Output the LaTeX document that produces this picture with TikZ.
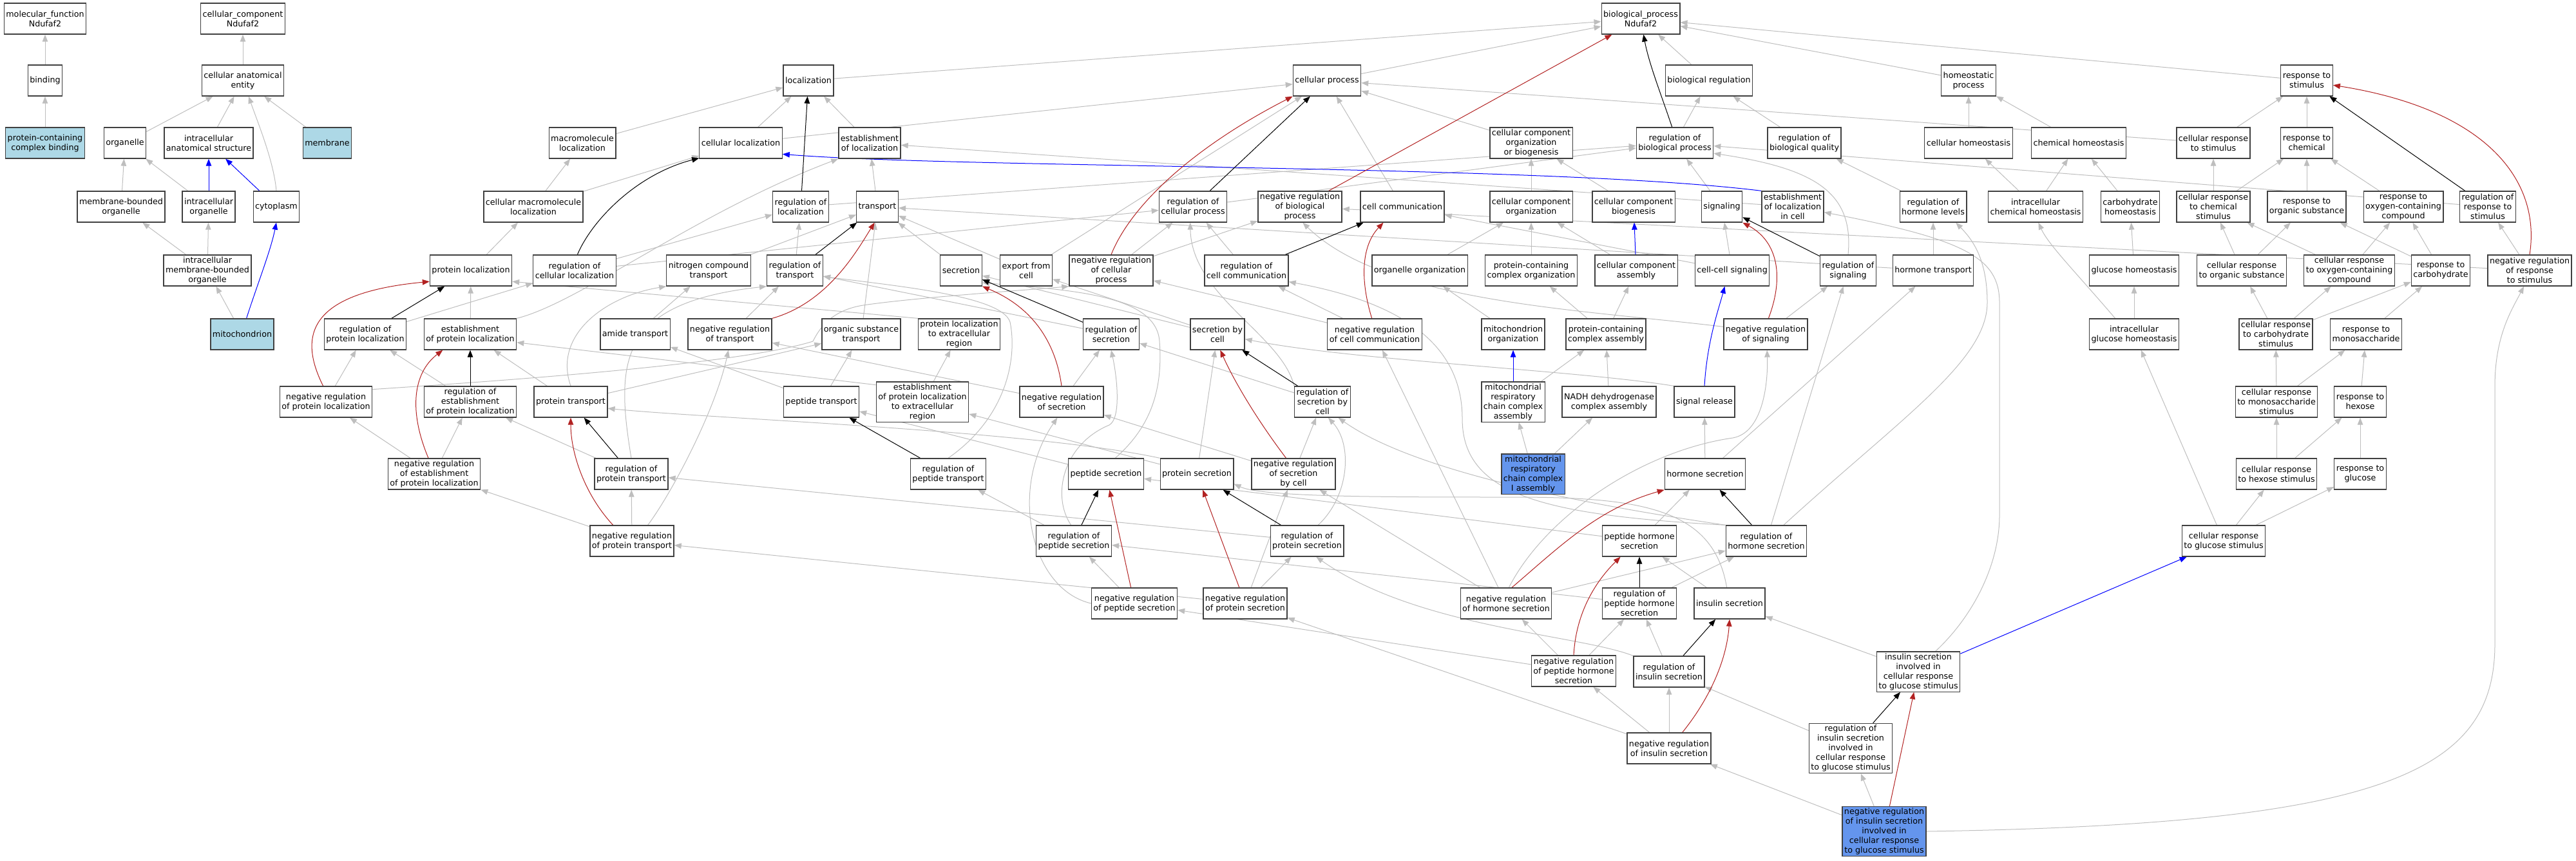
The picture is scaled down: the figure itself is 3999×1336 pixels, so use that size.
\documentclass[tikz,border=0pt]{standalone}
\usepackage{fontspec}
\setmainfont{DejaVu Sans}
\usepackage{tikz}
\usetikzlibrary{arrows.meta, backgrounds}
\definecolor{isacolor}{RGB}{190,190,190}
\definecolor{negcolor}{RGB}{178,34,34}
\definecolor{partcolor}{RGB}{0,0,255}
\definecolor{leafcolor}{RGB}{173,216,230}
\definecolor{querycolor}{RGB}{100,149,237}
\definecolor{bordercolor}{RGB}{64,64,64}
\newcommand{\termfont}{\fontsize{12.7}{15}\selectfont}

\begin{document}
\begin{tikzpicture}[
    x=1pt, y=-1pt,
    term/.style={draw=bordercolor, line width=1.3pt, fill=white, align=center, font=\termfont, inner xsep=3pt, inner ysep=2.5pt, minimum height=48pt},
    leaf/.style={term, fill=leafcolor},
    query/.style={term, fill=querycolor},
    isa/.style={draw=isacolor, line width=1pt, -{Triangle[length=11pt,width=8.5pt]}},
    reg/.style={isa, draw=black},
    negreg/.style={isa, draw=negcolor},
    partof/.style={isa, draw=partcolor}
]
    \useasboundingbox (0,0) rectangle (3999,1336);

    % Roots
    \node[term] (mf) at (70,29) {molecular\_function\\Ndufaf2};
    \node[term] (ccomp) at (377,29) {cellular\_component\\Ndufaf2};
    \node[term] (bp) at (2547,29) {biological\_process\\Ndufaf2};

    % Row 1
    \node[term] (binding) at (70,125) {binding};
    \node[term] (cae) at (377,125) {cellular anatomical\\entity};
    \node[term] (loc) at (1255,125) {localization};
    \node[term] (cp) at (2060,125) {cellular process};
    \node[term] (breg) at (2653,125) {biological regulation};
    \node[term] (hp) at (3056,125) {homeostatic\\process};
    \node[term] (rts) at (3581,125) {response to\\stimulus};

    % Row 2
    \node[leaf] (pcb) at (70,222) {protein-containing\\complex binding};
    \node[term] (organelle) at (194,222) {organelle};
    \node[term] (ias) at (324,222) {intracellular\\anatomical structure};
    \node[leaf] (membrane) at (508,222) {membrane};
    \node[term] (mml) at (904,222) {macromolecule\\localization};
    \node[term] (cl) at (1150,222) {cellular localization};
    \node[term] (el) at (1350,222) {establishment\\of localization};
    \node[term] (ccob) at (2377,222) {cellular component\\organization\\or biogenesis};
    \node[term] (rbp) at (2600,222) {regulation of\\biological process};
    \node[term] (rbq) at (2801,222) {regulation of\\biological quality};
    \node[term] (chom) at (3056,222) {cellular homeostasis};
    \node[term] (chemh) at (3227,222) {chemical homeostasis};
    \node[term] (crts) at (3436,222) {cellular response\\to stimulus};
    \node[term] (rtc) at (3581,222) {response to\\chemical};

    % Row 3
    \node[term] (mbo) at (188,321) {membrane-bounded\\organelle};
    \node[term] (io) at (324,321) {intracellular\\organelle};
    \node[term] (cyto) at (429,321) {cytoplasm};
    \node[term] (cml) at (828,321) {cellular macromolecule\\localization};
    \node[term] (rloc) at (1243,321) {regulation of\\localization};
    \node[term] (transport) at (1362,321) {transport};
    \node[term] (rcp) at (1852,321) {regulation of\\cellular process};
    \node[term] (nrbp) at (2018,321) {negative regulation\\of biological\\process};
    \node[term] (ccomm) at (2177,321) {cell communication};
    \node[term] (cco) at (2377,321) {cellular component\\organization};
    \node[term] (ccb) at (2536,321) {cellular component\\biogenesis};
    \node[term] (signaling) at (2673,321) {signaling};
    \node[term] (elic) at (2783,321) {establishment\\of localization\\in cell};
    \node[term] (rhl) at (3001,321) {regulation of\\hormone levels};
    \node[term] (ich) at (3160,321) {intracellular\\chemical homeostasis};
    \node[term] (carbh) at (3307,321) {carbohydrate\\homeostasis};
    \node[term] (crcs) at (3436,321) {cellular response\\to chemical\\stimulus};
    \node[term] (ros) at (3581,321) {response to\\organic substance};
    \node[term] (rocc) at (3731,321) {response to\\oxygen-containing\\compound};
    \node[term] (rrts) at (3862,321) {regulation of\\response to\\stimulus};

    % Row 4
    \node[term] (imbo) at (322,420) {intracellular\\membrane-bounded\\organelle};
    \node[term] (ploc) at (731,420) {protein localization};
    \node[term] (rcl) at (892,420) {regulation of\\cellular localization};
    \node[term] (nct) at (1100,420) {nitrogen compound\\transport};
    \node[term] (rt) at (1234,420) {regulation of\\transport};
    \node[term] (secretion) at (1492,420) {secretion};
    \node[term] (efc) at (1593,420) {export from\\cell};
    \node[term] (nrcp) at (1725,420) {negative regulation\\of cellular\\process};
    \node[term] (rcc) at (1935,420) {regulation of\\cell communication};
    \node[term] (oo) at (2204,420) {organelle organization};
    \node[term] (pcco) at (2377,420) {protein-containing\\complex organization};
    \node[term] (cca) at (2540,420) {cellular component\\assembly};
    \node[term] (ccs) at (2689,420) {cell-cell signaling};
    \node[term] (rsig) at (2869,420) {regulation of\\signaling};
    \node[term] (ht) at (3001,420) {hormone transport};
    \node[term] (gh) at (3313,420) {glucose homeostasis};
    \node[term] (cros) at (3480,420) {cellular response\\to organic substance};
    \node[term] (croc) at (3647,420) {cellular response\\to oxygen-containing\\compound};
    \node[term] (rcarb) at (3789,420) {response to\\carbohydrate};
    \node[term] (nrrts) at (3927,420) {negative regulation\\of response\\to stimulus};

    % Row 5
    \node[leaf] (mito) at (376,519) {mitochondrion};
    \node[term] (rpl) at (567,519) {regulation of\\protein localization};
    \node[term] (epl) at (730,519) {establishment\\of protein localization};
    \node[term] (amide) at (986,519) {amide transport};
    \node[term] (nrt) at (1133,519) {negative regulation\\of transport};
    \node[term] (ost) at (1337,519) {organic substance\\transport};
    \node[term] (plter) at (1489,519) {protein localization\\to extracellular\\region};
    \node[term] (rsec) at (1725,519) {regulation of\\secretion};
    \node[term] (sbc) at (1890,519) {secretion by\\cell};
    \node[term] (nrcc) at (2134,519) {negative regulation\\of cell communication};
    \node[term] (mo) at (2349,519) {mitochondrion\\organization};
    \node[term] (pcca) at (2493,519) {protein-containing\\complex assembly};
    \node[term] (nrsig) at (2741,519) {negative regulation\\of signaling};
    \node[term] (igh) at (3313,519) {intracellular\\glucose homeostasis};
    \node[term] (crcarb) at (3533,519) {cellular response\\to carbohydrate\\stimulus};
    \node[term] (rmono) at (3673,519) {response to\\monosaccharide};

    % Row 6
    \node[term] (nrpl) at (506,624) {negative regulation\\of protein localization};
    \node[term] (repl) at (730,624) {regulation of\\establishment\\of protein localization};
    \node[term] (ptr) at (886,624) {protein transport};
    \node[term] (peptr) at (1275,624) {peptide transport};
    \node[term] (eplter) at (1432,624) {establishment\\of protein localization\\to extracellular\\region};
    \node[term] (nrsec) at (1648,624) {negative regulation\\of secretion};
    \node[term] (rsbc) at (2053,624) {regulation of\\secretion by\\cell};
    \node[term] (mrcca) at (2349,624) {mitochondrial\\respiratory\\chain complex\\assembly};
    \node[term] (nadh) at (2498,624) {NADH dehydrogenase\\complex assembly};
    \node[term] (srel) at (2646,624) {signal release};
    \node[term] (crmono) at (3534,624) {cellular response\\to monosaccharide\\stimulus};
    \node[term] (rhex) at (3664,624) {response to\\hexose};

    % Row 7
    \node[term] (nrepl) at (674,736) {negative regulation\\of establishment\\of protein localization};
    \node[term] (rpt) at (980,736) {regulation of\\protein transport};
    \node[term] (rpeptt) at (1472,736) {regulation of\\peptide transport};
    \node[term] (pepsec) at (1717,736) {peptide secretion};
    \node[term] (psec) at (1858,736) {protein secretion};
    \node[term] (nrsbc) at (2008,736) {negative regulation\\of secretion\\by cell};
    \node[query] (mrcc1) at (2380,736) {mitochondrial\\respiratory\\chain complex\\I assembly};
    \node[term] (hsec) at (2647,736) {hormone secretion};
    \node[term] (crhex) at (3534,736) {cellular response\\to hexose stimulus};
    \node[term] (rglu) at (3664,736) {response to\\glucose};

    % Row 8
    \node[term] (nrpt) at (981,840) {negative regulation\\of protein transport};
    \node[term] (rpeps) at (1667,840) {regulation of\\peptide secretion};
    \node[term] (rps) at (2029,840) {regulation of\\protein secretion};
    \node[term] (phs) at (2545,840) {peptide hormone\\secretion};
    \node[term] (rhs) at (2742,840) {regulation of\\hormone secretion};
    \node[term] (crgs) at (3452,840) {cellular response\\to glucose stimulus};

    % Row 9
    \node[term] (npeps) at (1761,937) {negative regulation\\of peptide secretion};
    \node[term] (nps) at (1933,937) {negative regulation\\of protein secretion};
    \node[term] (nrhs) at (2338,937) {negative regulation\\of hormone secretion};
    \node[term] (rphs) at (2545,937) {regulation of\\peptide hormone\\secretion};
    \node[term] (inss) at (2685,937) {insulin secretion};

    % Rows 10-12
    \node[term] (nrphs) at (2443,1042) {negative regulation\\of peptide hormone\\secretion};
    \node[term] (rins) at (2591,1043) {regulation of\\insulin secretion};
    \node[term] (isrgs) at (2978,1043) {insulin secretion\\involved in\\cellular response\\to glucose stimulus};
    \node[term] (nins) at (2591,1162) {negative regulation\\of insulin secretion};
    \node[term] (risrgs) at (2873,1162) {regulation of\\insulin secretion\\involved in\\cellular response\\to glucose stimulus};
    \node[query] (nisrgs) at (2925,1291) {negative regulation\\of insulin secretion\\involved in\\cellular response\\to glucose stimulus};

    \begin{scope}[on background layer]
    % is_a
    \draw[isa] (binding) -- (mf);
    \draw[isa] (pcb) -- (binding);
    \draw[isa] (cae) -- (ccomp);
    \draw[isa] (organelle) -- (cae);
    \draw[isa] (ias) -- (cae);
    \draw[isa] (cyto.north) .. controls (425,250) and (400,190) .. (cae.-70);
    \draw[isa] (membrane) -- (cae);
    \draw[isa] (mbo) -- (organelle);
    \draw[isa] (io) -- (organelle);
    \draw[isa] (imbo) -- (mbo);
    \draw[isa] (imbo) -- (io);
    \draw[isa] (mito) -- (imbo);
    \draw[isa] (mml) -- (loc);
    \draw[isa] (cml) -- (mml);
    \draw[isa] (cml) -- (cl);
    \draw[isa] (ploc) -- (cml);
    \draw[isa] (epl) -- (ploc);
    \draw[isa] (rpl) -- (rcl);
    \draw[isa] (rcl) -- (rloc);
    \draw[isa] (rcl) -- (rcp);
    \draw[isa] (epl.north east) .. controls (900,470) and (1080,330) .. (el.south west);
    \draw[isa] (nrpl) -- (rpl);
    \draw[isa] (nrpl.15) .. controls (800,590) and (1150,565) .. (1262,530) .. controls (1272,510) and (1290,482) .. (1340,474) .. controls (1420,462) and (1600,450) .. (nrcp.south west);
    \draw[isa] (nrepl) -- (nrpl);
    \draw[isa] (nrepl) -- (repl);
    \draw[isa] (repl) -- (rpl);
    \draw[isa] (ptr) -- (epl);
    \draw[isa] (ptr.north) .. controls (858,520) and (940,460) .. (nct.south west);
    \draw[isa] (ptr) -- (ost);
    \draw[isa] (rpt) -- (repl);
    \draw[isa] (rpt.north) .. controls (955,560) and (960,470) .. (rt.south west);
    \draw[isa] (nrpt) -- (rpt);
    \draw[isa] (nrpt) -- (nrepl);
    \draw[isa] (nrpt.45) .. controls (1040,770) and (1110,640) .. (nrt.-95);
    \draw[isa] (loc) -- (bp);
    \draw[isa] (cl) -- (loc);
    \draw[isa] (el) -- (loc);
    \draw[isa] (cl) -- (cp);
    \draw[isa] (elic) -- (el);
    \draw[isa] (transport) -- (el);
    \draw[isa] (rloc) -- (rbp);
    \draw[isa] (nct) -- (transport);
    \draw[isa] (rt) -- (rloc);
    \draw[isa] (nrt) -- (rt);
    \draw[isa] (secretion) -- (transport);
    \draw[isa] (efc) -- (transport);
    \draw[isa] (ost) -- (transport);
    \draw[isa] (ht) -- (transport);
    \draw[isa] (amide) -- (nct);
    \draw[isa] (efc) -- (cp);
    \draw[isa] (nrcp) -- (rcp);
    \draw[isa] (nrcp) -- (nrbp);
    \draw[isa] (rcp) -- (rbp);
    \draw[isa] (rcc) -- (rcp);
    \draw[isa] (sbc) -- (secretion);
    \draw[isa] (sbc) -- (efc);
    \draw[isa] (rsec) -- (rt);
    \draw[isa] (rsbc) -- (rsec);
    \draw[isa] (rsbc.north west) .. controls (1990,520) and (1850,460) .. (rcp.-100);
    \draw[isa] (psec) -- (sbc);
    \draw[isa] (pepsec.60) .. controls (1790,660) and (1805,600) .. (1800,530) .. controls (1795,455) and (1650,450) .. (secretion.-30);
    \draw[isa] (peptr) -- (ost);
    \draw[isa] (peptr) -- (amide);
    \draw[isa] (plter.north west) -- (ploc.-15);
    \draw[isa] (eplter) -- (plter);
    \draw[isa] (eplter.160) -- (epl.-10);
    \draw[isa] (psec) -- (eplter);
    \draw[isa] (psec.north west) .. controls (1600,668) and (1100,650) .. (ptr.-10);
    \draw[isa] (nrsec) -- (nrt);
    \draw[isa] (nrsec) -- (rsec);
    \draw[isa] (nrsbc) -- (nrsec);
    \draw[isa] (npeps.west) .. controls (1600,915) and (1565,760) .. (nrsec.-105);
    \draw[isa] (rpeptt.north) .. controls (1560,650) and (1580,560) .. (1568,500) .. controls (1555,460) and (1400,445) .. (rt.-12);
    \draw[isa] (cp) -- (bp);
    \draw[isa] (breg) -- (bp);
    \draw[isa] (hp) -- (bp);
    \draw[isa] (rts) -- (bp);
    \draw[isa] (ccob) -- (cp);
    \draw[isa] (ccomm) -- (cp);
    \draw[isa] (crts) -- (cp);
    \draw[isa] (rbp) -- (breg);
    \draw[isa] (rbq) -- (breg);
    \draw[isa] (cco) -- (ccob);
    \draw[isa] (ccb) -- (ccob);
    \draw[isa] (ccs) -- (signaling);
    \draw[isa] (ccs) -- (ccomm);
    \draw[isa] (signaling) -- (rbp);
    \draw[isa] (rsig.north) .. controls (2878,300) and (2820,262) .. (rbp.-15);
    \draw[isa] (rrts) -- (rbp);
    \draw[isa] (rhl) -- (rbq);
    \draw[isa] (nrsig) -- (rsig);
    \draw[isa] (nrsig.170) .. controls (2450,480) and (2150,470) .. (nrbp.-80);
    \draw[isa] (nrcc) -- (rcc);
    \draw[isa] (nrcc) -- (nrcp);
    \draw[isa] (oo) -- (cco);
    \draw[isa] (pcco) -- (cco);
    \draw[isa] (cca) -- (cco);
    \draw[isa] (mo) -- (oo);
    \draw[isa] (pcca) -- (pcco);
    \draw[isa] (pcca) -- (cca);
    \draw[isa] (mrcca) -- (pcca);
    \draw[isa] (nadh) -- (pcca);
    \draw[isa] (mrcc1) -- (mrcca);
    \draw[isa] (mrcc1) -- (nadh);
    \draw[isa] (srel.north west) .. controls (2450,575) and (2100,560) .. (sbc.-10);
    \draw[isa] (rps.55) .. controls (2095,770) and (2100,690) .. (rsbc.-70);
    \draw[isa] (nrsbc) -- (rsbc);
    \draw[isa] (rhs.north west) .. controls (2300,760) and (2150,700) .. (rsbc.-45);
    \draw[isa] (nps) -- (rps);
    \draw[isa] (nps) -- (nrsbc);
    \draw[isa] (npeps) -- (rpeps);
    \draw[isa] (rpeps) -- (rpeptt);
    \draw[isa] (rpeps.100) .. controls (1632,770) and (1650,690) .. (1722,660) .. controls (1740,650) and (1735,590) .. (rsec.south);
    \draw[isa] (pepsec) -- (peptr);
    \draw[isa] (rps) -- (rpt);
    \draw[isa] (nps) -- (nrpt);
    \draw[isa] (phs) -- (hsec);
    \draw[isa] (phs) -- (pepsec);
    \draw[isa] (hsec) -- (srel);
    \draw[isa] (hsec) -- (ht);
    \draw[isa] (rhs) .. controls (2950,650) and (3085,560) .. (3085,470) .. controls (3085,400) and (3060,370) .. (rhl.-35);
    \draw[isa] (rhs) -- (rsig);
    \draw[isa] (rhs.north west) .. controls (2400,800) and (2270,770) .. (2270,650) .. controls (2270,520) and (2150,465) .. (rcc.-15);
    \draw[isa] (nrhs) -- (rhs);
    \draw[isa] (nrhs) -- (nrsbc);
    \draw[isa] (nrhs) -- (nrcc);
    \draw[isa] (nrhs.80) .. controls (2400,800) and (2550,700) .. (2690,680) .. controls (2735,672) and (2745,600) .. (nrsig.-85);
    \draw[isa] (rphs) -- (rhs);
    \draw[isa] (rphs) -- (rpeps);
    \draw[isa] (nrphs) -- (rphs);
    \draw[isa] (nrphs) -- (nrhs);
    \draw[isa] (nrphs) -- (npeps);
    \draw[isa] (inss) -- (phs);
    \draw[isa] (inss.100) .. controls (2660,790) and (2550,772) .. (2350,772) .. controls (2150,772) and (1960,772) .. (psec.-15);
    \draw[isa] (rins) -- (rphs);
    \draw[isa] (rins.north west) .. controls (2450,985) and (2200,975) .. (rps.-60);
    \draw[isa] (nins) -- (rins);
    \draw[isa] (nins) -- (nrphs);
    \draw[isa] (nins) -- (nps);
    \draw[isa] (risrgs) -- (rins);
    \draw[isa] (nisrgs) -- (risrgs);
    \draw[isa] (nisrgs) -- (nins);
    \draw[isa] (nisrgs.east) .. controls (3700,1280) and (3873,1200) .. (3873,1000) -- (3873,600) .. controls (3873,520) and (3900,480) .. (nrrts.-110);
    \draw[isa] (isrgs) -- (inss);
    \draw[isa] (isrgs.50) .. controls (3060,960) and (3104,880) .. (3104,800) -- (3104,470) .. controls (3104,400) and (3050,372) .. (elic.-10);
    \draw[isa] (chom) -- (hp);
    \draw[isa] (chemh) -- (hp);
    \draw[isa] (crts) -- (rts);
    \draw[isa] (rtc) -- (rts);
    \draw[isa] (ich) -- (chom);
    \draw[isa] (ich) -- (chemh);
    \draw[isa] (carbh) -- (chemh);
    \draw[isa] (crcs) -- (crts);
    \draw[isa] (crcs) -- (rtc);
    \draw[isa] (ros) -- (rtc);
    \draw[isa] (rocc) -- (rtc);
    \draw[isa] (ht) -- (rhl);
    \draw[isa] (gh) -- (carbh);
    \draw[isa] (igh) -- (gh);
    \draw[isa] (igh.140) .. controls (3220,420) and (3180,380) .. (ich.-80);
    \draw[isa] (crgs) -- (igh);
    \draw[isa] (cros) -- (ros);
    \draw[isa] (cros) -- (crcs);
    \draw[isa] (croc) -- (crcs);
    \draw[isa] (croc) -- (rocc);
    \draw[isa] (rcarb) -- (ros);
    \draw[isa] (rcarb) -- (rocc);
    \draw[isa] (crcarb) -- (cros);
    \draw[isa] (crcarb) -- (croc);
    \draw[isa] (crcarb) -- (rcarb);
    \draw[isa] (rmono) -- (rcarb);
    \draw[isa] (crmono) -- (crcarb);
    \draw[isa] (crmono) -- (rmono);
    \draw[isa] (rhex) -- (rmono);
    \draw[isa] (crhex) -- (crmono);
    \draw[isa] (crhex) -- (rhex);
    \draw[isa] (rglu) -- (rhex);
    \draw[isa] (crgs) -- (crhex);
    \draw[isa] (crgs) -- (rglu);
    \draw[isa] (nrrts) -- (rrts);
    \draw[isa] (nrrts) -- (nrbp);

    % part_of
    \draw[partof] (io) -- (ias);
    \draw[partof] (cyto) -- (ias);
    \draw[partof] (mito.75) .. controls (400,440) and (420,390) .. (cyto.south);
    \draw[partof] (elic.north west) .. controls (2400,255) and (1500,262) .. (cl.-15);
    \draw[partof] (cca) -- (ccb);
    \draw[partof] (mrcca) -- (mo);
    \draw[partof] (srel.north) .. controls (2650,530) and (2668,480) .. (ccs.-115);
    \draw[partof] (isrgs) -- (crgs);

    % regulates
    \draw[reg] (rcl.80) .. controls (920,340) and (990,270) .. (cl.-160);
    \draw[reg] (rpl) -- (ploc);
    \draw[reg] (repl) -- (epl);
    \draw[reg] (rpt) -- (ptr);
    \draw[reg] (rloc) -- (loc);
    \draw[reg] (rt) -- (transport);
    \draw[reg] (rcp) -- (cp);
    \draw[reg] (rbp.100) .. controls (2580,150) and (2560,100) .. (bp.-80);
    \draw[reg] (rsec) -- (secretion);
    \draw[reg] (rsbc) -- (sbc);
    \draw[reg] (rpeptt) -- (peptr);
    \draw[reg] (rpeps) -- (pepsec);
    \draw[reg] (rps) -- (psec);
    \draw[reg] (rcc) -- (ccomm);
    \draw[reg] (rsig) -- (signaling);
    \draw[reg] (rhs) -- (hsec);
    \draw[reg] (rphs) -- (phs);
    \draw[reg] (rins) -- (inss);
    \draw[reg] (risrgs) -- (isrgs);
    \draw[reg] (rrts) -- (rts);

    % negatively regulates
    \draw[negreg] (nrpl.100) .. controls (462,520) and (480,455) .. (ploc.195);
    \draw[negreg] (nrepl.110) .. controls (635,640) and (640,580) .. (epl.-150);
    \draw[negreg] (nrpt.140) .. controls (905,765) and (886,700) .. (ptr.south);
    \draw[negreg] (nrt.north east) .. controls (1285,470) and (1330,390) .. (transport.-100);
    \draw[negreg] (nrcp.north) .. controls (1755,320) and (1850,230) .. (cp.south west);
    \draw[negreg] (nrbp) -- (bp);
    \draw[negreg] (nrsec.north) .. controls (1640,540) and (1610,480) .. (secretion.south east);
    \draw[negreg] (nrsbc.115) .. controls (1950,650) and (1915,590) .. (sbc.-80);
    \draw[negreg] (npeps) -- (pepsec);
    \draw[negreg] (nps) -- (psec);
    \draw[negreg] (nrcc.100) .. controls (2110,430) and (2115,380) .. (ccomm.-140);
    \draw[negreg] (nrsig.80) .. controls (2770,430) and (2760,375) .. (signaling.south east);
    \draw[negreg] (nrhs.70) .. controls (2420,850) and (2480,790) .. (hsec.south west);
    \draw[negreg] (nrphs.north) .. controls (2446,960) and (2470,910) .. (phs.-140);
    \draw[negreg] (nins.50) .. controls (2650,1090) and (2680,1030) .. (inss.south);
    \draw[negreg] (nisrgs) -- (isrgs);
    \draw[negreg] (nrrts.north) .. controls (3945,280) and (3860,170) .. (rts.-10);
    \end{scope}
\end{tikzpicture}
\end{document}
